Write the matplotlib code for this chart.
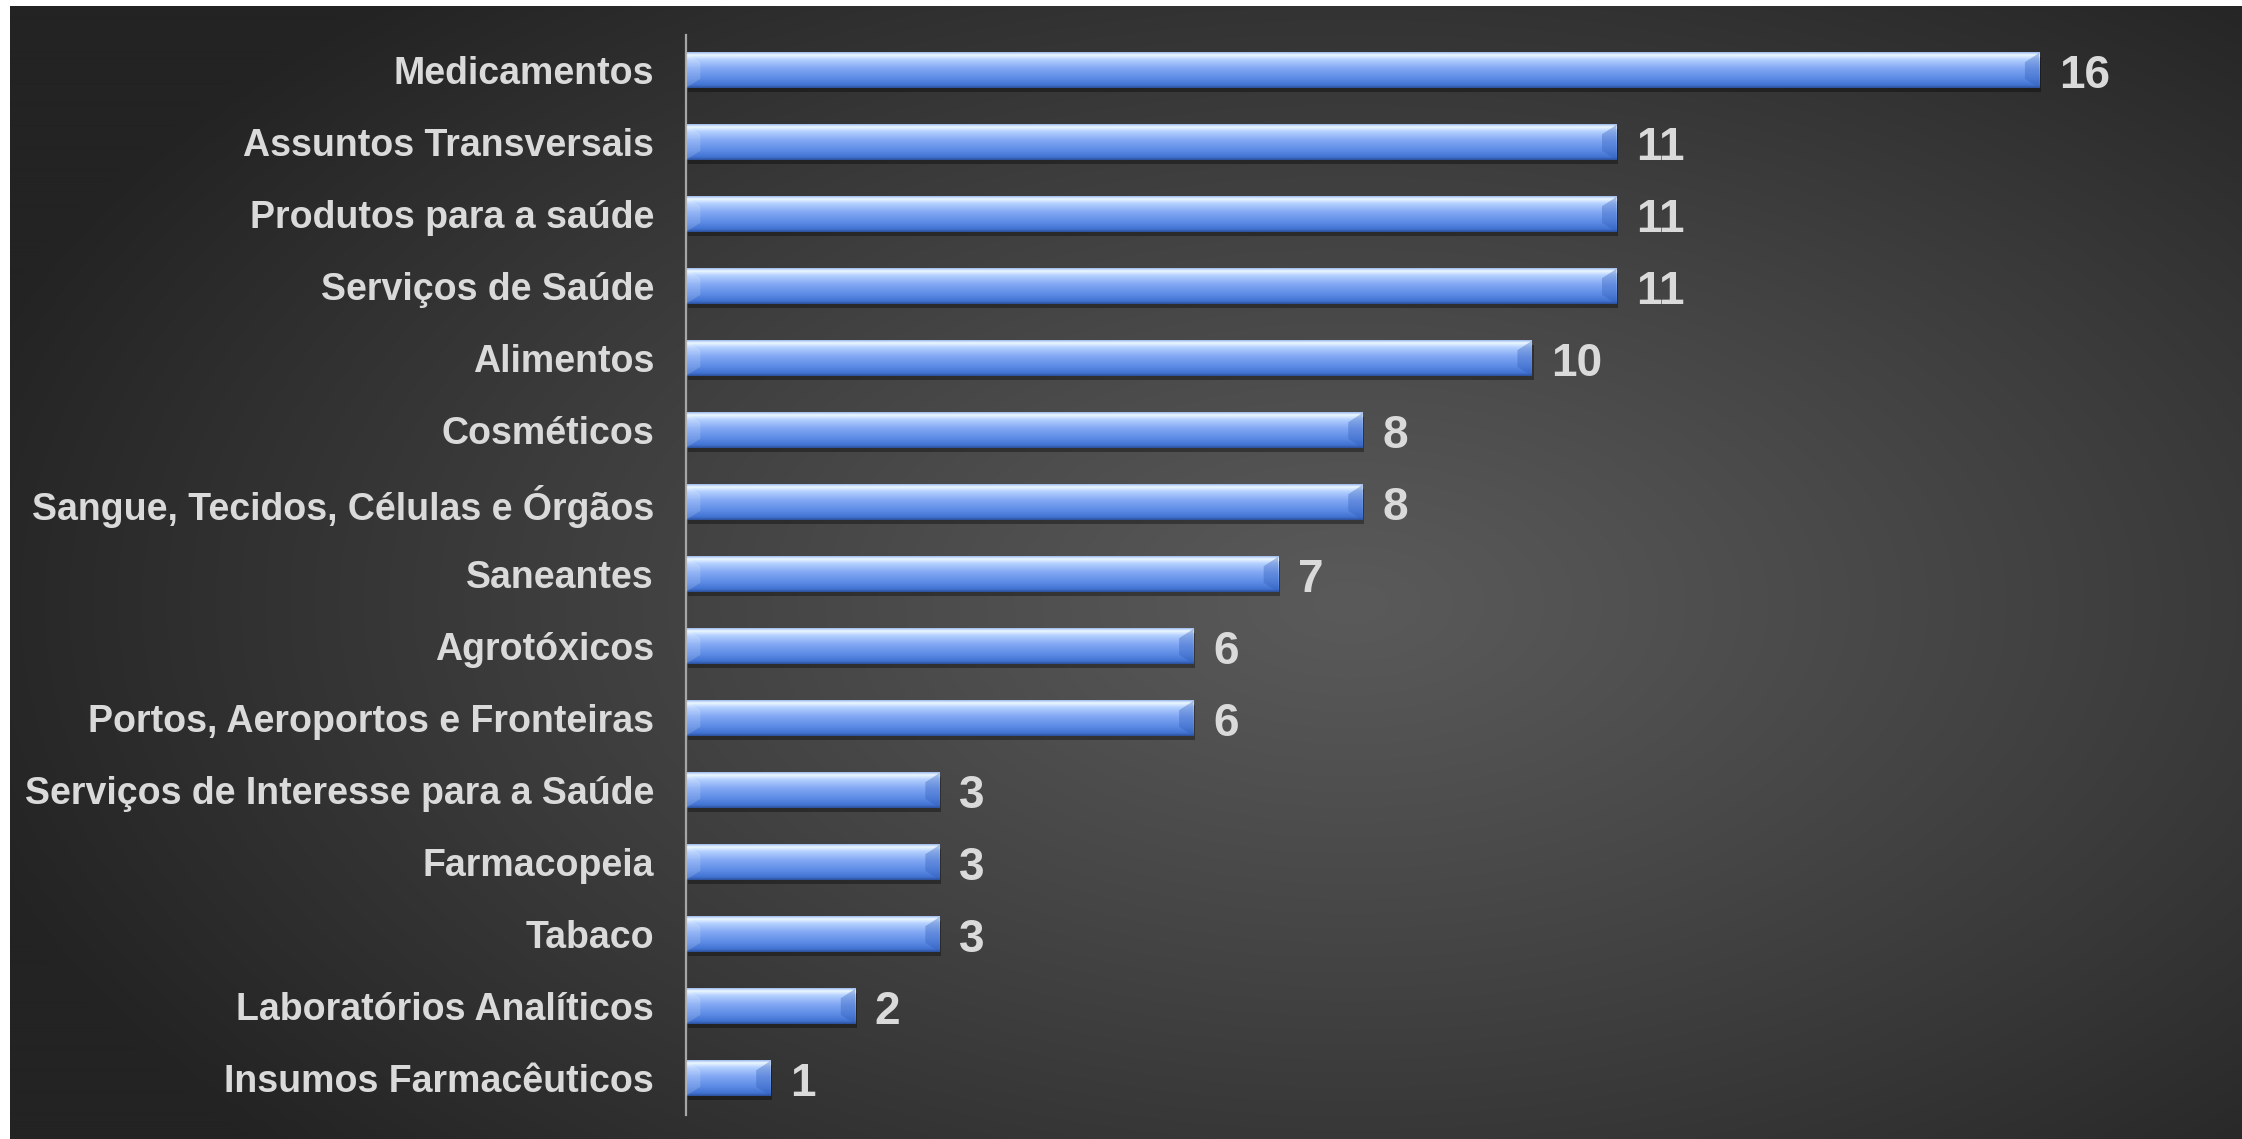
import numpy as np
import matplotlib
matplotlib.use("Agg")
import matplotlib.pyplot as plt
from matplotlib.colors import LinearSegmentedColormap
from matplotlib.patches import Polygon

categories = ["Medicamentos", "Assuntos Transversais", "Produtos para a saúde",
              "Serviços de Saúde", "Alimentos", "Cosméticos",
              "Sangue, Tecidos, Células e Órgãos", "Saneantes", "Agrotóxicos",
              "Portos, Aeroportos e Fronteiras",
              "Serviços de Interesse para a Saúde", "Farmacopeia", "Tabaco",
              "Laboratórios Analíticos", "Insumos Farmacêuticos"]
values = [16, 11, 11, 11, 10, 8, 8, 7, 6, 6, 3, 3, 3, 2, 1]

plt.rcParams['font.family'] = ['Liberation Sans', 'DejaVu Sans']
text_col = '#dadada'

W, H = 2242, 1139
fig = plt.figure(figsize=(W / 100, H / 100), dpi=100, facecolor='white')

# dark radial background
bg = fig.add_axes([10 / W, 0, 1 - 10 / W, 1 - 6 / H], zorder=0)
yy, xx = np.mgrid[0:H, 0:W - 10]
cx, cy = 1340, 600
d = np.sqrt(((xx - cx) / 1450.0) ** 2 + ((yy - cy) / 820.0) ** 2)
d = np.clip(d, 0, 1) ** 1.1
light, dark = np.array([0x5a, 0x5a, 0x5a]), np.array([0x23, 0x23, 0x23])
img = (light[None, None, :] * (1 - d[..., None]) + dark[None, None, :] * d[..., None]) / 255.0
bg.imshow(img, aspect='auto', interpolation='bilinear')
bg.axis('off')

ax = fig.add_axes([686 / W, 1 - 1114.5 / H, (2200 - 686) / W, 1080 / H], zorder=1)
ax.set_facecolor('none')

bar_cmap = LinearSegmentedColormap.from_list('bar', [
    (0.0, '#9fbcf0'), (0.07, '#eef8ff'), (0.2, '#b4d0ff'), (0.45, '#82a8f4'),
    (0.75, '#5a8ae4'), (0.92, '#4373d2'), (1.0, '#2c53a0')])
grad = np.linspace(0, 1, 64)[:, None]

ypos = np.arange(len(categories))
h = 0.49
for y, v in zip(ypos, values):
    top, bot = y - h / 2, y + h / 2
    # shadow
    ax.add_patch(plt.Rectangle((0.02, top + 0.06), v, h, color='black', alpha=0.35, lw=0, zorder=1))
    ax.imshow(grad, cmap=bar_cmap, extent=(0, v, bot, top), aspect='auto', zorder=2,
              interpolation='bilinear')
    dx, dy = 0.17, 0.13
    ax.add_patch(Polygon([(v, top), (v, bot), (v - dx, bot - dy), (v - dx, top + dy)],
                         closed=True, color='#2f5cb8', alpha=0.35, lw=0, zorder=3))
    ax.add_patch(Polygon([(0, top), (0, bot), (dx, bot - dy), (dx, top + dy)],
                         closed=True, color='#ffffff', alpha=0.15, lw=0, zorder=3))
    ax.annotate(str(v), xy=(v, y), xytext=(14, 0), textcoords='offset points',
                ha='left', va='center_baseline', fontsize=33, fontweight='bold',
                color=text_col, zorder=4)

ax.set_xlim(0, 17.9)
ax.set_ylim(len(categories) - 0.5, -0.5)
ax.set_yticks(ypos)
ax.set_yticklabels(categories, fontsize=27, fontweight='bold', color=text_col)
ax.tick_params(axis='y', length=0, pad=23)
ax.set_xticks([])
for s in ['top', 'right', 'bottom']:
    ax.spines[s].set_visible(False)
ax.spines['left'].set_color('#a6a6a6')
ax.spines['left'].set_linewidth(1.6)

fig.savefig('out.png', dpi=100, facecolor='white')
